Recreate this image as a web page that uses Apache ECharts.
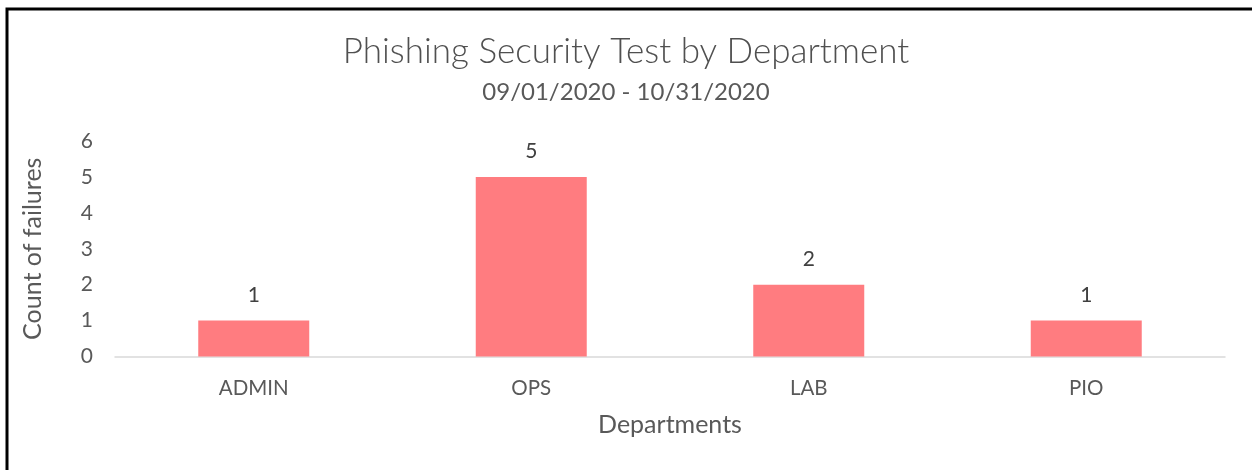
<!DOCTYPE html>
<html><head><meta charset="utf-8">
<script src="https://cdn.jsdelivr.net/npm/echarts@6/dist/echarts.min.js"></script>
<style>html,body{margin:0;padding:0;background:#fff}#c{width:1252px;height:470px}</style>
</head><body><div id="c"></div>
<script>
const categories = ['ADMIN', 'OPS', 'LAB', 'PIO'];
const failures = [1, 5, 2, 1];
const yTicks = [0, 1, 2, 3, 4, 5, 6];

const chart = echarts.init(document.getElementById('c'));
const font = 'Lato, "Open Sans", sans-serif';
chart.setOption({
  backgroundColor: '#fff',
  animation: false,
  title: [{
    text: 'Phishing Security Test by Department',
    left: 'center', top: 27,
    textStyle: {fontFamily: font, fontSize: 35, fontWeight: 300, color: '#505050', lineHeight: 40}
  }, {
    text: '09/01/2020 - 10/31/2020',
    left: 'center', top: 73,
    textStyle: {fontFamily: font, fontSize: 24, fontWeight: 'normal', color: '#595959', lineHeight: 28}
  }],
  graphic: [{
    type: 'polyline', silent: true,
    shape: {points: [[7, 470], [7, 9], [1252, 9]]},
    style: {stroke: '#000', lineWidth: 3, fill: null}
  }],
  grid: {left: 115, top: 141, width: 1110, height: 215.5, containLabel: false},
  xAxis: {
    type: 'category', data: categories,
    axisLine: {lineStyle: {color: '#d9d9d9', width: 1.5}},
    axisTick: {show: false},
    axisLabel: {fontFamily: font, fontSize: 20.5, color: '#595959', margin: 21},
    name: 'Departments', nameLocation: 'middle', nameGap: 56,
    nameTextStyle: {fontFamily: font, fontSize: 25, color: '#595959'}
  },
  yAxis: {
    type: 'value', min: 0, max: 6, interval: 1,
    axisLine: {show: false}, axisTick: {show: false}, splitLine: {show: false},
    axisLabel: {fontFamily: font, fontSize: 21, color: '#595959', margin: 22,
      formatter: v => yTicks.includes(v) ? String(v) : ''},
    name: 'Count of failures', nameLocation: 'middle', nameGap: 70,
    nameTextStyle: {fontFamily: font, fontSize: 25, color: '#595959'}
  },
  series: [{
    type: 'bar', data: failures, barWidth: '40%',
    itemStyle: {color: '#FF7C80'},
    label: {show: true, position: 'top', distance: 15, fontFamily: font, fontSize: 21, color: '#404040'}
  }]
});
</script></body></html>
